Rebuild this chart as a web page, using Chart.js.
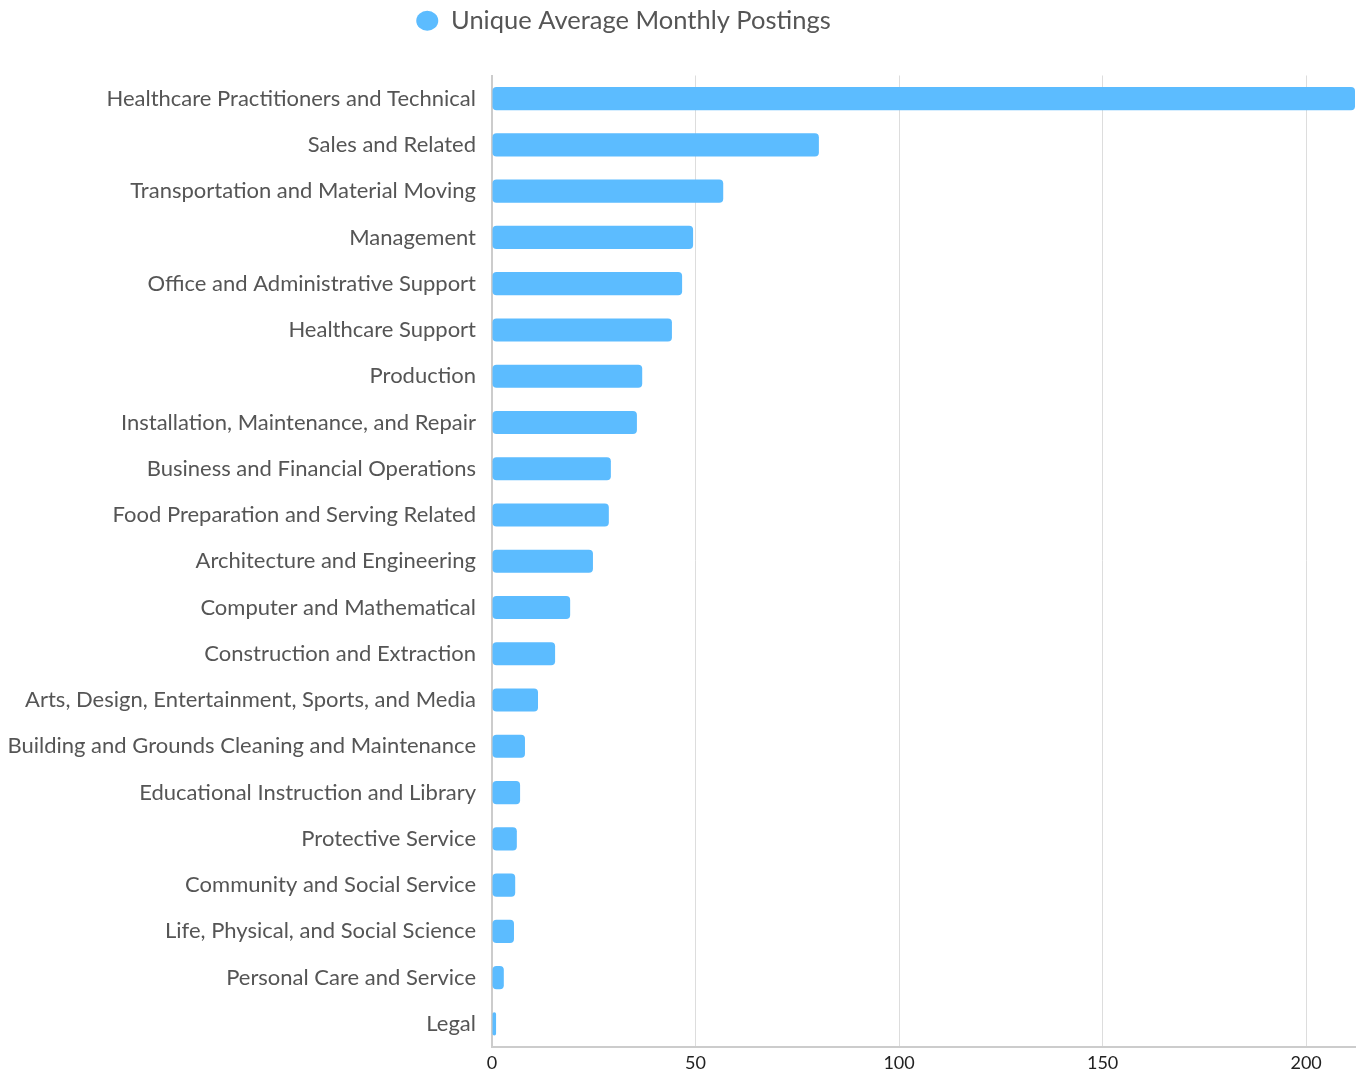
<!DOCTYPE html>
<html>
<head>
<meta charset="utf-8">
<script src="https://cdn.jsdelivr.net/npm/chart.js@4"></script>
<style>
  html,body{margin:0;padding:0;background:#fff;}
  #wrap{width:1369px;height:1072px;position:relative;}
</style>
</head>
<body>
<div id="wrap"><canvas id="chart"></canvas></div>
<script>
/* ====== data ====== */
const categories = [
  "Healthcare Practitioners and Technical","Sales and Related","Transportation and Material Moving",
  "Management","Office and Administrative Support","Healthcare Support","Production",
  "Installation, Maintenance, and Repair","Business and Financial Operations",
  "Food Preparation and Serving Related","Architecture and Engineering","Computer and Mathematical",
  "Construction and Extraction","Arts, Design, Entertainment, Sports, and Media",
  "Building and Grounds Cleaning and Maintenance","Educational Instruction and Library",
  "Protective Service","Community and Social Service","Life, Physical, and Social Science",
  "Personal Care and Service","Legal"
];
const postings = [212,80.3,56.8,49.4,46.7,44.2,36.9,35.6,29.2,28.7,24.8,19.2,15.5,11.3,8.1,6.9,6.1,5.7,5.4,2.9,1.0];
const seriesLabel = "Unique Average Monthly Postings";
const xStep = 50;

const FONT = "Lato, 'Noto Sans', sans-serif";

// legend: a bit left of centre, with extra room below it
const legendTweak = {
  id:'legendTweak',
  beforeInit(chart){
    const lg = chart.legend;
    const fit = lg.fit;
    lg.fit = function(){ fit.call(this); this.height += 32; };
  },
  afterLayout(chart){
    const lg = chart.legend;
    lg.left -= 58; lg.right -= 58;
  }
};

new Chart(document.getElementById('chart'), {
  type:'bar',
  data:{
    labels:categories,
    datasets:[{
      label:seriesLabel,
      data:postings,
      backgroundColor:'#5cbcff',
      borderWidth:0,
      borderRadius:4,
      borderSkipped:false,
      barPercentage:0.5,
      categoryPercentage:1
    }]
  },
  options:{
    indexAxis:'y',
    responsive:true,
    maintainAspectRatio:false,
    animation:false,
    layout:{padding:{left:8,right:14,top:0,bottom:0}},
    plugins:{
      legend:{
        position:'top',
        labels:{
          usePointStyle:true, pointStyle:'circle', boxWidth:14, boxHeight:14, pointStyleWidth:22,
          color:'#555', font:{family:FONT,size:25.5}, padding:8
        }
      },
      tooltip:{enabled:false}
    },
    scales:{
      x:{
        min:0,
        bounds:'data',
        afterBuildTicks(scale){ scale.ticks = scale.ticks.filter(t => t.value % xStep === 0); },
        afterFit(scale){ scale.height = 25; scale.paddingLeft = 0; scale.paddingRight = 0; },
        ticks:{stepSize:xStep, color:'#222', font:{family:FONT,size:18}, padding:5},
        grid:{color:'#dddddd', drawTicks:false},
        border:{color:'#cccccc', width:2}
      },
      y:{
        afterFit(scale){ scale.width = 484; scale.paddingTop = 0; scale.paddingBottom = 0; },
        ticks:{color:'#555', font:{family:FONT,size:22}, padding:16, autoSkip:false},
        grid:{display:false, drawTicks:false},
        border:{color:'#cccccc', width:2}
      }
    }
  },
  plugins:[legendTweak]
});
</script>
</body>
</html>
